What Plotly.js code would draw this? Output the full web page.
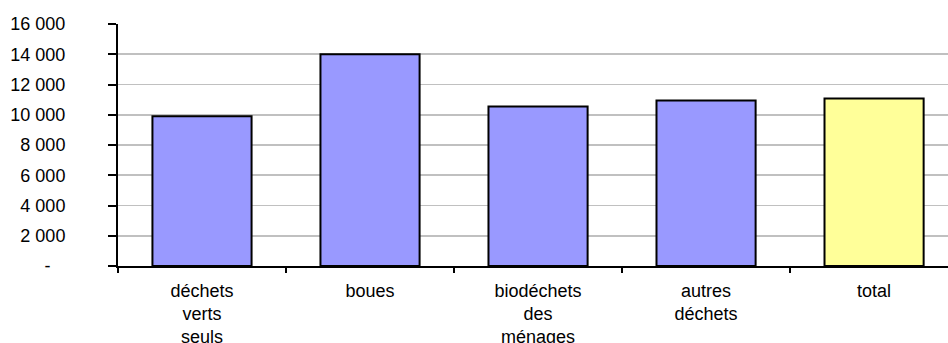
<!DOCTYPE html>
<html>
<head>
<meta charset="utf-8">
<script src="https://cdn.plot.ly/plotly-3.0.1.min.js"></script>
<style>
  html, body { margin: 0; padding: 0; background: #ffffff; }
  #chart { width: 948px; height: 343px; }
</style>
</head>
<body>
<div id="chart"></div>
<script>
// Categories of biowaste and their values
const categories = [
  "déchets<br>verts<br>seuls",
  "boues",
  "biodéchets<br>des<br>ménages",
  "autres<br>déchets",
  "total"
];
const values = [9900, 14000, 10550, 10950, 11080];
const barColors = ["#9999ff", "#9999ff", "#9999ff", "#9999ff", "#ffff99"];

// Y-axis ticks, French thousands separator, dash for zero
const yTickVals = [0, 2000, 4000, 6000, 8000, 10000, 12000, 14000, 16000];
const yTickText = ["-\u00a0\u00a0\u00a0", "2 000", "4 000", "6 000", "8 000", "10 000", "12 000", "14 000", "16 000"];

const font = { family: "Liberation Sans, Arial, sans-serif", size: 18, color: "#000000" };

const trace = {
  type: "bar",
  x: categories,
  y: values,
  width: 0.59,
  marker: {
    color: barColors,
    line: { color: "#000000", width: 2 }
  },
  hoverinfo: "skip"
};

const layout = {
  width: 948,
  height: 343,
  margin: { l: 118, r: 0, t: 24, b: 77 },
  paper_bgcolor: "#ffffff",
  plot_bgcolor: "#ffffff",
  showlegend: false,
  font: font,
  xaxis: {
    type: "category",
    range: [-0.5, 4.44],
    showline: true,
    linecolor: "#000000",
    linewidth: 2,
    ticks: "outside",
    tickson: "boundaries",
    ticklen: 5,
    tickwidth: 2,
    tickcolor: "#000000",
    showgrid: false,
    zeroline: false,
    tickfont: font,
    ticklabelstandoff: 7,
    fixedrange: true
  },
  yaxis: {
    range: [0, 16000],
    tickmode: "array",
    tickvals: yTickVals,
    ticktext: yTickText,
    showline: true,
    linecolor: "#000000",
    linewidth: 2,
    ticks: "outside",
    ticklen: 8,
    tickwidth: 2,
    tickcolor: "#000000",
    showgrid: true,
    gridcolor: "#c0c0c0",
    gridwidth: 1.6,
    zeroline: false,
    tickfont: font,
    ticklabelstandoff: 39,
    fixedrange: true
  }
};

Plotly.newPlot("chart", [trace], layout, { displayModeBar: false, staticPlot: true });
</script>
</body>
</html>
